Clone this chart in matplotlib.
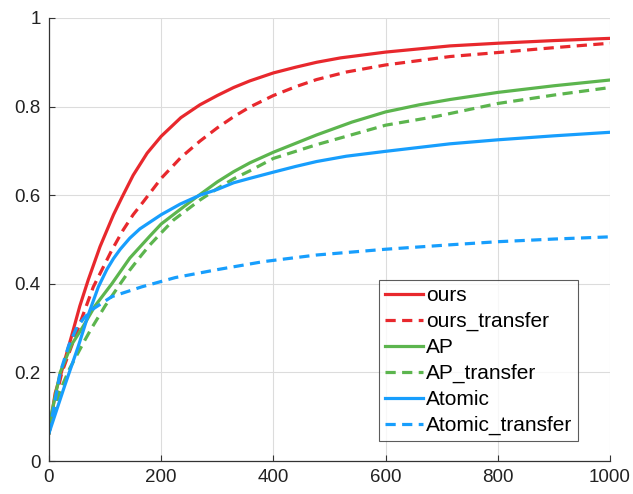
import matplotlib.pyplot as plt

# values
x_ours = [0, 11, 22, 40, 55, 70, 91, 115, 130, 150, 175, 200, 235, 269, 300, 329, 358, 400, 440, 477, 520, 600, 715, 800, 900, 1000]
ours = [0.063, 0.153, 0.2, 0.281, 0.35, 0.409, 0.484, 0.556, 0.595, 0.645, 0.695, 0.733, 0.775, 0.804, 0.825, 0.843, 0.858, 0.876, 0.889, 0.9, 0.91, 0.923, 0.937, 0.943, 0.949, 0.954]

x_ours_tr = [0, 10, 23, 52, 79, 112, 132, 150, 168, 200, 235, 269, 300, 329, 358, 400, 440, 477, 530, 600, 715, 800, 900, 1000]
ours_tr = [0.063, 0.13, 0.2, 0.3, 0.393, 0.476, 0.521, 0.556, 0.585, 0.638, 0.685, 0.722, 0.752, 0.777, 0.799, 0.825, 0.845, 0.861, 0.878, 0.894, 0.913, 0.922, 0.933, 0.943]

x_ap = [0, 5, 20, 40, 60, 82, 112, 144, 180, 200, 234, 260, 300, 329, 358, 400, 477, 540, 600, 660, 715, 800, 900, 1000]
ap = [0.063, 0.11, 0.2, 0.262, 0.302, 0.35, 0.4, 0.458, 0.508, 0.535, 0.568, 0.593, 0.63, 0.653, 0.673, 0.697, 0.736, 0.765, 0.788, 0.804, 0.816, 0.832, 0.847, 0.86]

x_ap_tr = [0, 6, 20, 37, 64, 76, 100, 127, 144, 165, 180, 200, 222, 269, 300, 329, 358, 400, 477, 600, 691, 800, 900, 1000]
ap_tr = [0.063, 0.1, 0.16, 0.209, 0.273, 0.3, 0.35, 0.4, 0.431, 0.465, 0.488, 0.515, 0.544, 0.589, 0.615, 0.637, 0.655, 0.683, 0.714, 0.758, 0.778, 0.807, 0.826, 0.843]

x_atomic = [0, 28, 52, 70, 88, 103, 115, 127, 144, 162, 200, 234, 269, 300, 329, 358, 400, 440, 477, 530, 600, 715, 800, 900, 1000]
atomic = [0.063, 0.17, 0.258, 0.33, 0.393, 0.432, 0.457, 0.478, 0.503, 0.524, 0.556, 0.58, 0.6, 0.613, 0.628, 0.638, 0.652, 0.665, 0.676, 0.688, 0.699, 0.716, 0.725, 0.734, 0.742]

x_atomic_tr = [0, 10, 20, 35, 49, 62, 76, 112, 165, 225, 300, 382, 477, 600, 715, 800, 900, 1000]
atomic_tr = [0.063, 0.13, 0.2, 0.26, 0.3, 0.322, 0.341, 0.371, 0.393, 0.414, 0.432, 0.45, 0.465, 0.478, 0.488, 0.495, 0.501, 0.506]

labels = ['ours', 'ours_transfer', 'AP', 'AP_transfer', 'Atomic', 'Atomic_transfer']

red = '#e8282d'
green = '#5cb54e'
blue = '#179efd'

plt.rcParams['font.family'] = ['Liberation Sans', 'DejaVu Sans']

fig = plt.figure(figsize=(6.33, 4.94), dpi=100)
ax = fig.add_axes([0.0774, 0.0668, 0.8863, 0.8968])

lw = 2.3
dash = (3.2, 2.0)
ax.plot(x_ours, ours, color=red, lw=lw, label=labels[0])
ax.plot(x_ours_tr, ours_tr, color=red, lw=lw, dashes=dash, label=labels[1])
ax.plot(x_ap, ap, color=green, lw=lw, label=labels[2])
ax.plot(x_ap_tr, ap_tr, color=green, lw=lw, dashes=dash, label=labels[3])
ax.plot(x_atomic, atomic, color=blue, lw=lw, label=labels[4])
ax.plot(x_atomic_tr, atomic_tr, color=blue, lw=lw, dashes=dash, label=labels[5])

ax.set_xlim(0, 1000)
ax.set_ylim(0, 1)
ax.set_xticks([0, 200, 400, 600, 800, 1000])
ax.set_yticks([0, 0.2, 0.4, 0.6, 0.8, 1])
ax.set_yticklabels(['0', '0.2', '0.4', '0.6', '0.8', '1'])
ax.grid(True, color='#dcdcdc', lw=0.8)
ax.set_axisbelow(True)
for s in ['top', 'right']:
    ax.spines[s].set_visible(False)
for s in ['left', 'bottom']:
    ax.spines[s].set_color('#333333')
    ax.spines[s].set_linewidth(0.9)
ax.tick_params(direction='in', length=4, width=0.8, colors='#333333',
               labelsize=13.5, labelcolor='#222222', pad=6)

leg = ax.legend(loc='upper left', bbox_to_anchor=(0.588, 0.409), fontsize=15,
                frameon=True, fancybox=False, edgecolor='#333333',
                handlelength=1.8, handletextpad=0.15, labelspacing=0.33,
                borderpad=0.3, borderaxespad=0)
leg.get_frame().set_linewidth(0.8)

plt.savefig('out.png', dpi=100)
